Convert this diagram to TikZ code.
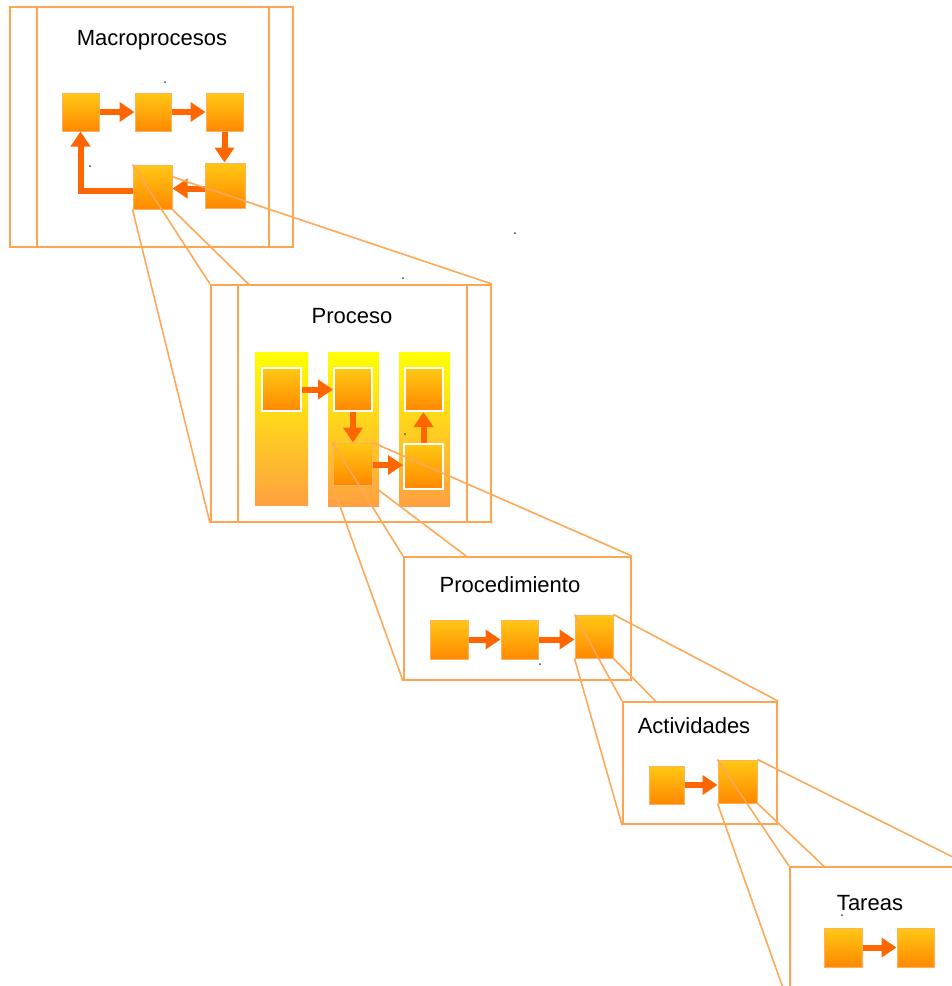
\documentclass[tikz,border=0pt]{standalone}
\usepackage{fontspec}
\setmainfont{Liberation Sans}
\usetikzlibrary{arrows.meta}

\definecolor{frameor}{HTML}{FFA552}
\definecolor{linkor}{HTML}{FFA858}
\definecolor{arrowor}{HTML}{FF6600}
\definecolor{boxtop}{HTML}{FFC814}
\definecolor{boxbot}{HTML}{FF8800}
\definecolor{boxedge}{HTML}{FFB060}
\definecolor{lanetop}{HTML}{FFFF00}
\definecolor{lanebot}{HTML}{FFA040}

\tikzset{
  frame/.style={draw=frameor, line width=2pt, fill=white, inner sep=0pt, anchor=north west},
  divider/.style={draw=frameor, line width=1.6pt},
  stepbox/.style={draw=boxedge, line width=1pt, top color=boxtop, bottom color=boxbot, inner sep=0pt},
  substep/.style={stepbox, draw=white, line width=2pt},
  lane/.style={draw=none, top color=lanetop, bottom color=lanebot, inner sep=0pt},
  link/.style={draw=linkor, line width=1.6pt},
  flow/.style={draw=arrowor, line width=6pt, -{Triangle[length=15pt,width=19pt]}},
  title/.style={font=\fontsize{22}{26}\selectfont, text=black, anchor=base, inner sep=0pt},
  speck/.style={fill=black!75, draw=none}
}

\begin{document}
\begin{tikzpicture}[x=1pt, y=-1pt]
\useasboundingbox (0,0) rectangle (952,986);
\clip (0,0) rectangle (952,986);

% ---------- Macroprocesos ----------
\node[frame, minimum width=283pt, minimum height=240pt] (macro) at (9,6) {};
\draw[divider] ([xshift=28pt]macro.north west) -- ([xshift=28pt]macro.south west);
\draw[divider] ([xshift=-25pt]macro.north east) -- ([xshift=-25pt]macro.south east);
\node[title] (tmacro) at (152,45) {Macroprocesos};

\node[stepbox, minimum width=37pt, minimum height=38pt] (m1) at (80.5,112) {};
\node[stepbox, minimum width=36pt, minimum height=38pt] (m2) at (153,112) {};
\node[stepbox, minimum width=37pt, minimum height=38pt] (m3) at (224.5,112) {};
\node[stepbox, minimum width=40pt, minimum height=45pt] (m4) at (225,185.5) {};
\node[stepbox, minimum width=39pt, minimum height=44pt] (m5) at (152.5,187) {};

\draw[flow] (m1.east) -- (m2.west);
\draw[flow] (m2.east) -- (m3.west);
\draw[flow] (m3.south) -- (m3.south |- m4.north);
\draw[flow] ([yshift=-3pt]m4.west) -- ([yshift=-3pt]m4.west -| m5.east);
\draw[flow] ([yshift=-4pt]m5.west) -| (m1.south);

\fill[speck] (165,82) circle (1pt);
\fill[speck] (90,166) circle (1pt);

% ---------- Proceso ----------
\coordinate (pNW) at (210,284);
\node[frame, minimum width=280pt, minimum height=237pt] (proc) at (pNW) {};

\draw[link] (m5.north west) -- (proc.north west);
\draw[link] (m5.south west) -- (proc.south west);
\draw[link] (m5.27) -- (proc.north east);
\draw[link] (m5.south east) -- (proc.south east);

\fill[speck] (515,233) circle (1pt);
\fill[speck] (403,278) circle (1pt);

% redraw the frame on top of the connectors that run behind it
\node[frame, minimum width=280pt, minimum height=237pt] (proc) at (pNW) {};
\draw[divider] ([xshift=28pt]proc.north west) -- ([xshift=28pt]proc.south west);
\draw[divider] ([xshift=-25pt]proc.north east) -- ([xshift=-25pt]proc.south east);
\node[title] (tproc) at (352,323) {Proceso};

\node[lane, minimum width=53pt, minimum height=153pt] (l1) at (281.5,428.5) {};
\node[lane, minimum width=51pt, minimum height=154pt] (l2) at (353.5,429) {};
\node[lane, minimum width=51pt, minimum height=154pt] (l3) at (424.5,429) {};

\node[substep, minimum width=39pt, minimum height=43pt] (pA) at (281.5,389.5) {};
\node[substep, minimum width=38pt, minimum height=43pt] (pB) at (353,389.5) {};
\node[stepbox, minimum width=39pt, minimum height=42pt] (pC) at (352.5,464) {};
\node[substep, minimum width=38pt, minimum height=43pt] (pD) at (424,389.5) {};
\node[substep, minimum width=39pt, minimum height=45pt] (pE) at (423.5,466.5) {};

\draw[flow] (pA.east) -- (pB.west);
\draw[flow] (pB.south) -- (pB.south |- pC.north);
\draw[flow] ([yshift=-1pt]pC.east) -- ([yshift=-1pt]pC.east -| pE.west);
\draw[flow] (pE.north) -- (pE.north |- pD.south);

\fill[speck] (405,434) circle (1pt);

% ---------- Procedimiento ----------
\node[frame, minimum width=227pt, minimum height=123pt] (proced) at (403,556) {};
\draw[link] (pC.north west) -- (proced.north west);
\draw[link] (pC.south west) -- (proced.south west);
\draw[link] (pC.north east) -- (proced.north east);
\draw[link] (pC.south east) -- (proced.south east);
\node[frame, minimum width=227pt, minimum height=123pt] (proced) at (403,556) {};
\node[title] (tproced) at (510,592) {Procedimiento};

\node[stepbox, minimum width=38pt, minimum height=39pt] (d1) at (449,639.5) {};
\node[stepbox, minimum width=37pt, minimum height=39pt] (d2) at (519.5,639.5) {};
\node[stepbox, minimum width=38pt, minimum height=43pt] (d3) at (594,636.5) {};

\draw[flow] (d1.east) -- (d2.west);
\draw[flow] (d2.east) -- (d2.east -| d3.west);

\fill[speck] (540,664) circle (1pt);

% ---------- Actividades ----------
\node[frame, minimum width=154pt, minimum height=122pt] (activ) at (622,701) {};
\draw[link] (d3.north west) -- (activ.north west);
\draw[link] (d3.south west) -- (activ.south west);
\draw[link] (d3.north east) -- (activ.north east);
\draw[link] (d3.south east) -- (activ.south east);
\node[frame, minimum width=154pt, minimum height=122pt] (activ) at (622,701) {};
\node[title] (tactiv) at (694,733) {Actividades};

\node[stepbox, minimum width=35pt, minimum height=38pt] (a1) at (666.5,785) {};
\node[stepbox, minimum width=39pt, minimum height=43pt] (a2) at (737.5,781.5) {};
\draw[flow] (a1.east) -- (a1.east -| a2.west);

% ---------- Tareas ----------
\node[frame, minimum width=180pt, minimum height=137pt] (tareas) at (789,866) {};
\draw[link] (a2.north west) -- (tareas.north west);
\draw[link] (a2.south west) -- (tareas.south west);
\draw[link] (a2.north east) -- (tareas.north east);
\draw[link] (a2.south east) -- (tareas.south east);
\node[frame, minimum width=180pt, minimum height=137pt] (tareas) at (789,866) {};
\node[title] (ttareas) at (870,910) {Tareas};

\node[stepbox, minimum width=38pt, minimum height=39pt] (t1) at (843,947.5) {};
\node[stepbox, minimum width=37pt, minimum height=39pt] (t2) at (915.5,947.5) {};
\draw[flow] (t1.east) -- (t2.west);

\fill[speck] (842,915) circle (1pt);
\end{tikzpicture}
\end{document}
